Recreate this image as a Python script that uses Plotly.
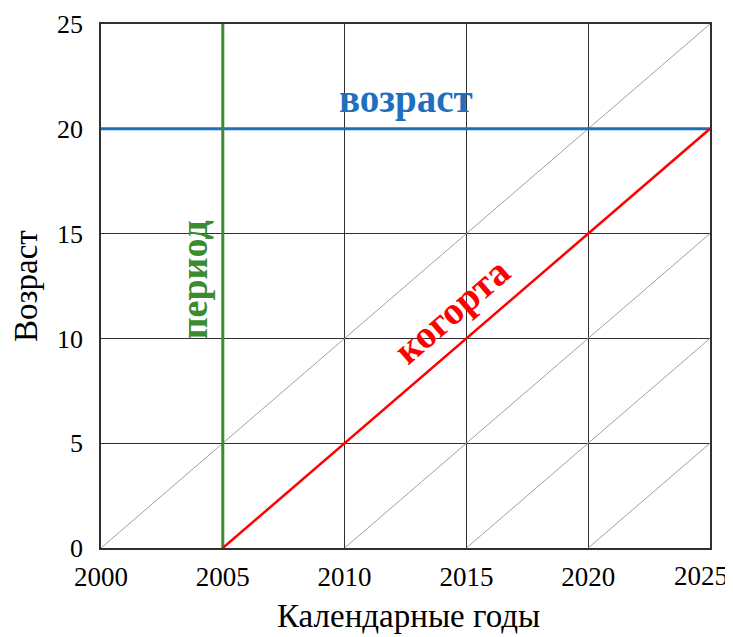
import plotly.graph_objects as go

# Lexis diagram data
years = [2000, 2005, 2010, 2015, 2020, 2025]
ages = [0, 5, 10, 15, 20, 25]
diag_starts = [2000, 2005, 2010, 2015, 2020]   # cohorts born in these years
end_year = 2025

age_line = 20          # "возраст"
period_year = 2005     # "период"
cohort_year = 2005     # "когорта"

x_title = "Календарные годы"
y_title = "Возраст"

GRID = "#303030"
BLUE = "#1f6fbf"
GREEN = "#3a8c2f"
RED = "#ff0000"
FONT = "Liberation Serif"

fig = go.Figure()

# thin grey cohort diagonals
for y0 in diag_starts:
    fig.add_trace(go.Scatter(
        x=[y0, end_year], y=[0, end_year - y0],
        mode="lines", line=dict(color="#a0a0a0", width=1),
        hoverinfo="skip", showlegend=False))

# age line
fig.add_trace(go.Scatter(
    x=[years[0], years[-1]], y=[age_line, age_line],
    mode="lines", line=dict(color=BLUE, width=3), showlegend=False))

# period line
fig.add_trace(go.Scatter(
    x=[period_year, period_year], y=[ages[0], ages[-1]],
    mode="lines", line=dict(color=GREEN, width=3), showlegend=False))

# cohort line
fig.add_trace(go.Scatter(
    x=[cohort_year, end_year], y=[0, end_year - cohort_year],
    mode="lines", line=dict(color=RED, width=2.5), showlegend=False))

fig.add_annotation(x=2012.5, y=21.4, text="<b>возраст</b>", showarrow=False,
                   font=dict(family=FONT, size=39, color=BLUE))
fig.add_annotation(x=2003.8, y=12.8, text="<b>период</b>", showarrow=False,
                   textangle=-90, font=dict(family=FONT, size=38, color=GREEN))
fig.add_annotation(x=2014.4, y=11.3, text="<b>когорта</b>", showarrow=False,
                   textangle=-40.7, font=dict(family=FONT, size=39, color=RED))

# last year label is pulled inward so it stays inside the window
fig.add_annotation(x=years[-1], y=0, xref="x", yref="paper",
                   text=str(years[-1]), showarrow=False,
                   xanchor="right", yanchor="top", xshift=20, yshift=-11,
                   font=dict(family=FONT, size=27, color="black"))

# axis titles as annotations (standoff is ignored without automargin)
fig.add_annotation(x=0.5, y=0, xref="paper", yref="paper", text=x_title,
                   showarrow=False, xshift=3, yshift=-68, yanchor="middle",
                   font=dict(family=FONT, size=33, color="black"))
fig.add_annotation(x=0, y=0.5, xref="paper", yref="paper", text=y_title,
                   showarrow=False, textangle=-90, xshift=-75, xanchor="center",
                   font=dict(family=FONT, size=33, color="black"))

# page body adds an 8px offset, margins compensate for it
fig.update_layout(
    width=733, height=637,
    margin=dict(l=93, r=31, t=16, b=97),
    paper_bgcolor="white", plot_bgcolor="white",
    font=dict(family=FONT, color="black"),
)
fig.update_xaxes(
    range=[years[0], years[-1]], tickvals=years[:-1], ticks="",
    tickfont=dict(family=FONT, size=27), ticklabelstandoff=4,
    ticklabeloverflow="allow", automargin=False,
    showgrid=True, gridcolor=GRID, gridwidth=1.4,
    showline=True, linecolor=GRID, linewidth=1.6, mirror=True, zeroline=False,
)
fig.update_yaxes(
    range=[ages[0], ages[-1]], tickvals=ages, ticks="",
    tickfont=dict(family=FONT, size=26), ticklabelstandoff=11,
    ticklabeloverflow="allow", automargin=False,
    showgrid=True, gridcolor=GRID, gridwidth=1.4,
    showline=True, linecolor=GRID, linewidth=1.6, mirror=True, zeroline=False,
)

fig.write_html("out.html")
